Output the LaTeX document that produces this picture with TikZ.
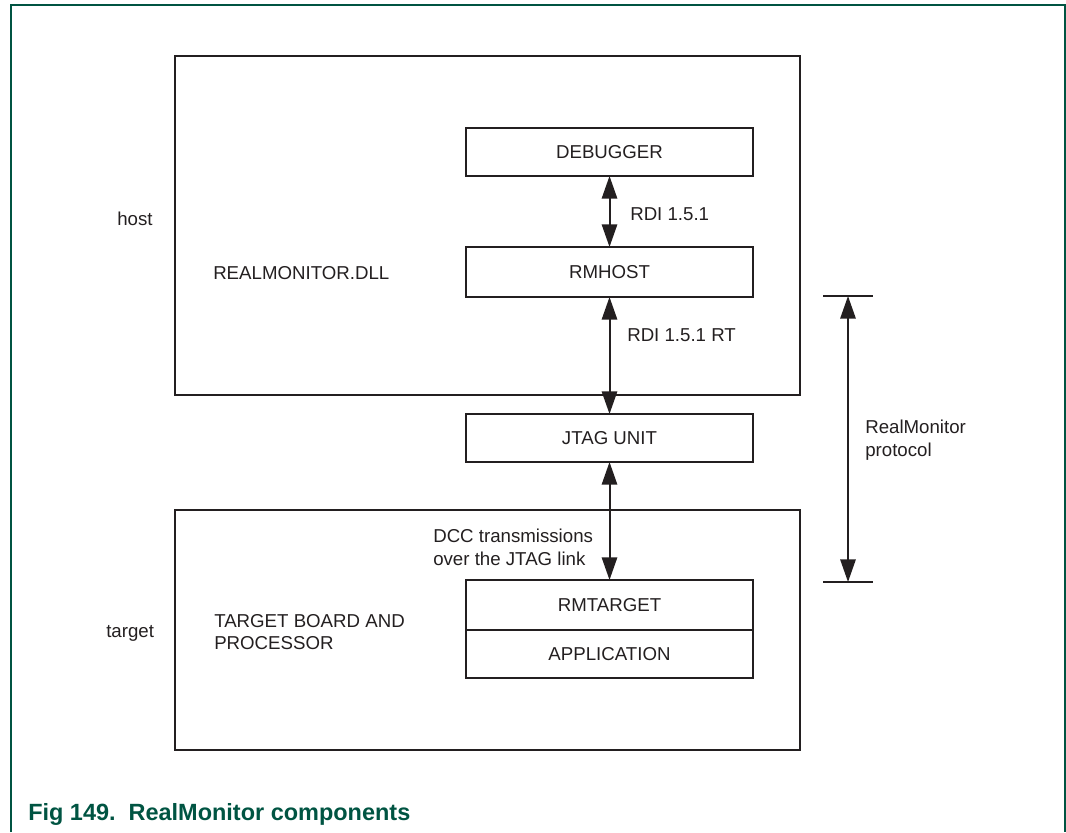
\documentclass[tikz,border=0pt]{standalone}
\usepackage{fontspec}
\setmainfont{Liberation Sans}
\usepackage{xcolor}
\usetikzlibrary{shapes,arrows.meta,positioning,calc}

\definecolor{figgreen}{RGB}{0,84,66}
\definecolor{inkgray}{RGB}{35,31,32}

\tikzset{
  unitbox/.style={draw=inkgray, text=inkgray, line width=1.5pt, inner sep=0pt, outer sep=0pt,
    minimum width=215pt, minimum height=36pt, font=\fontsize{14}{17}\selectfont},
  areabox/.style={draw=inkgray, line width=1.5pt, inner sep=0pt, outer sep=0pt},
  lbl/.style={text=inkgray, font=\fontsize{14}{17}\selectfont, inner sep=0pt},
  dblarrow/.style={draw=inkgray, line width=1.5pt, {Triangle[length=17pt,width=11.5pt]}-{Triangle[length=17pt,width=11.5pt]}}
}

\begin{document}
\begin{tikzpicture}[x=0.75pt,y=-0.75pt]
\useasboundingbox (0,0) rectangle (1066,832);

% Frame
\draw[figgreen, line width=1.1pt] (11,832) -- (11,5) -- (1065,5) -- (1065,832);

% Host and target areas
\node[areabox, minimum width=468.75pt, minimum height=254.25pt] (host) at (487.5,225.5) {};
\node[areabox, minimum width=468.75pt, minimum height=180pt] (target) at (487.5,630) {};

% Components
\node[unitbox] (debugger) at (609.5,152) {DEBUGGER};
\node[unitbox, minimum height=37.5pt] (rmhost) at (609.5,272) {RMHOST};
\node[unitbox] (jtag) at (609.5,438) {JTAG UNIT};
\node[unitbox, minimum height=37.5pt] (rmtarget) at (609.5,605) {RMTARGET};
\node[unitbox, below=0pt of rmtarget] (application) {APPLICATION};

% Links
\draw[dblarrow] (debugger.south) -- (rmhost.north);
\draw[dblarrow] (rmhost.south) -- (jtag.north);
\draw[dblarrow] (jtag.south) -- (rmtarget.north);

\node[lbl, anchor=west] (rdi) at (630,214) {RDI 1.5.1};
\node[lbl, anchor=west] (rdirt) at (627,335) {RDI 1.5.1 RT};
\node[lbl, anchor=west, align=left] (dcc) at (433,547) {DCC transmissions\\over the JTAG link};

% Area labels
\node[lbl, anchor=base west] (hostlbl) at (117,225) {host};
\node[lbl, anchor=base west] (dll) at (213,279) {REALMONITOR.DLL};
\node[lbl, anchor=base west] (targetlbl) at (106,637) {target};
\node[lbl, anchor=west, align=left] (board) at (214,632) {TARGET BOARD AND\\PROCESSOR};

% Protocol extent
\coordinate (ptop) at (848,296);
\coordinate (pbot) at (848,582);
\draw[inkgray, line width=1.5pt] ($(ptop)+(-25,0)$) -- ($(ptop)+(25,0)$);
\draw[inkgray, line width=1.5pt] ($(pbot)+(-25,0)$) -- ($(pbot)+(25,0)$);
\draw[dblarrow] (ptop) -- (pbot);
\node[lbl, anchor=west, align=left] (proto) at (865,440) {RealMonitor\\protocol};

% Caption
\node[anchor=base west, inner sep=0pt, text=figgreen, font=\fontsize{17.6}{20}\selectfont\bfseries] (caption) at (28,820) {Fig 149.\ \ RealMonitor components};
\end{tikzpicture}
\end{document}
